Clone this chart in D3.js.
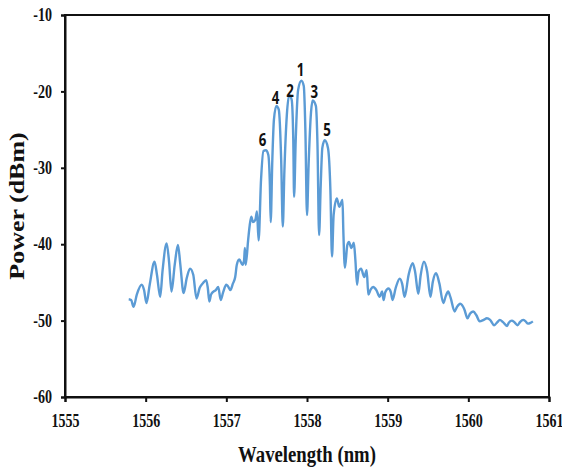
<!DOCTYPE html>
<html>
<head>
<meta charset="utf-8">
<script src="https://cdn.jsdelivr.net/npm/d3@7"></script>
<style>
  body { margin: 0; background: #fff; }
</style>
</head>
<body>
<script>
// spectrum (nm, dBm)
var wavelength = [
  1555.79, 1555.82, 1555.85, 1555.89, 1555.95, 1555.98, 1556.01, 1556.05, 1556.11, 1556.14,
  1556.18, 1556.21, 1556.26, 1556.29, 1556.32, 1556.36, 1556.40, 1556.43, 1556.47, 1556.51,
  1556.55, 1556.59, 1556.63, 1556.67, 1556.71, 1556.75, 1556.77, 1556.79, 1556.81, 1556.84,
  1556.87, 1556.90, 1556.93, 1556.96, 1557.00, 1557.02, 1557.05, 1557.08, 1557.11, 1557.13,
  1557.16, 1557.20, 1557.22, 1557.23, 1557.24, 1557.27, 1557.29, 1557.31, 1557.33, 1557.36,
  1557.38, 1557.40, 1557.43, 1557.46, 1557.49, 1557.52, 1557.54, 1557.55, 1557.57, 1557.59,
  1557.62, 1557.65, 1557.68, 1557.70, 1557.72, 1557.75, 1557.78, 1557.81, 1557.83, 1557.84,
  1557.86, 1557.89, 1557.93, 1557.96, 1557.98, 1558.00, 1558.02, 1558.05, 1558.07, 1558.11,
  1558.13, 1558.15, 1558.17, 1558.19, 1558.22, 1558.26, 1558.29, 1558.31, 1558.33, 1558.37,
  1558.40, 1558.44, 1558.45, 1558.47, 1558.50, 1558.52, 1558.55, 1558.58, 1558.60, 1558.62,
  1558.64, 1558.67, 1558.71, 1558.74, 1558.76, 1558.79, 1558.82, 1558.86, 1558.90, 1558.93,
  1558.95, 1558.97, 1559.01, 1559.04, 1559.06, 1559.10, 1559.15, 1559.18, 1559.21, 1559.26,
  1559.31, 1559.34, 1559.38, 1559.41, 1559.45, 1559.49, 1559.53, 1559.56, 1559.60, 1559.64,
  1559.69, 1559.72, 1559.75, 1559.78, 1559.83, 1559.86, 1559.90, 1559.95, 1559.99, 1560.02,
  1560.06, 1560.10, 1560.14, 1560.19, 1560.23, 1560.27, 1560.32, 1560.36, 1560.39, 1560.43,
  1560.48, 1560.50, 1560.54, 1560.57, 1560.61, 1560.64, 1560.68, 1560.71, 1560.74, 1560.77,
  1560.80
];
var power = [
  -47.2, -47.3, -48.2, -46.6, -45.3, -46.0, -47.7, -45.3, -42.3, -44.0,
  -46.9, -43.4, -39.9, -42.3, -46.2, -42.7, -40.1, -42.7, -46.4, -44.4,
  -43.2, -44.0, -47.1, -45.7, -45.1, -44.7, -45.7, -47.5, -46.6, -46.2,
  -46.0, -45.6, -47.3, -46.3, -45.3, -45.5, -46.0, -45.2, -44.3, -42.7,
  -42.0, -42.7, -42.1, -40.5, -42.7, -39.5, -37.5, -36.4, -37.1, -36.8,
  -35.7, -39.5, -31.6, -27.8, -27.7, -28.3, -32.3, -37.1, -29.0, -23.7,
  -21.9, -22.4, -29.0, -37.7, -30.3, -23.1, -20.5, -21.1, -26.4, -33.8,
  -26.4, -19.8, -18.6, -19.3, -25.1, -36.2, -29.6, -22.7, -21.2, -21.9,
  -27.0, -38.8, -32.3, -27.4, -26.4, -27.4, -32.9, -41.6, -36.2, -34.0,
  -35.1, -34.2, -38.1, -43.1, -40.1, -39.7, -40.5, -39.8, -42.1, -45.3,
  -43.6, -43.2, -44.3, -43.4, -46.6, -45.9, -45.6, -46.0, -46.9, -46.2,
  -47.3, -46.3, -45.8, -46.3, -47.3, -45.7, -44.5, -45.2, -46.9, -44.0,
  -42.5, -43.6, -46.5, -44.0, -42.3, -43.6, -46.9, -44.9, -43.8, -45.1,
  -47.7, -46.8, -46.2, -47.0, -48.8, -48.2, -47.8, -48.5, -49.7, -49.1,
  -48.8, -49.3, -50.1, -49.9, -49.7, -49.9, -50.6, -50.2, -49.9, -50.2,
  -50.7, -50.3, -50.0, -50.2, -50.6, -50.2, -49.9, -50.1, -50.4, -50.3,
  -50.1
];

var xTicks = [1555, 1556, 1557, 1558, 1559, 1560, 1561];
var yTicks = [-60, -50, -40, -30, -20, -10];

// numbers printed over the peaks, at the spot of their baseline
var peakNames = ["1", "2", "3", "4", "5", "6"];
var peakWl = [1557.92, 1557.79, 1558.09, 1557.61, 1558.25, 1557.45];
var peakDb = [-18.0, -20.7, -20.8, -21.6, -25.9, -27.1];

var w = 562;
var h = 473;
const margin = {top: 15, right: 13, bottom: 76, left: 65};
// the text in the picture is squeezed sideways
const squeeze = 0.78;
const serif = "'Liberation Serif', 'Times New Roman', serif";

var svg = d3.select("body")
            .append("svg")
            .attr("width", w)
            .attr("height", h);

var xScale = d3.scaleLinear()
               .domain([1555, 1561])
               .range([margin.left, w - margin.right]);

var yScale = d3.scaleLinear()
               .domain([-60, -10])
               .range([h - margin.bottom, margin.top]);

// frame round the plot
svg.append("rect")
   .attr("x", xScale(1555))
   .attr("y", yScale(-10))
   .attr("width", xScale(1561) - xScale(1555))
   .attr("height", yScale(-60) - yScale(-10))
   .attr("fill", "none")
   .attr("stroke", "#111")
   .attr("stroke-width", 2);

// x axis
var xAxis = d3.axisBottom(xScale)
              .tickValues(xTicks)
              .tickFormat(function(d) { return String(d); })
              .tickSize(5)
              .tickPadding(12);

var gx = svg.append("g")
            .attr("transform", "translate(0," + (h - margin.bottom) + ")")
            .call(xAxis);

// y axis, plain hyphen as minus like the picture
var yAxis = d3.axisLeft(yScale)
              .tickValues(yTicks)
              .tickFormat(function(d) { return String(d); })
              .tickSize(4);

var gy = svg.append("g")
            .attr("transform", "translate(" + margin.left + ",0)")
            .call(yAxis);

[gx, gy].forEach(function(g) {
  g.select(".domain").attr("stroke", "#111").attr("stroke-width", 2);
  g.selectAll(".tick line").attr("stroke", "#111").attr("stroke-width", 2);
  g.selectAll(".tick text")
   .attr("font-family", serif)
   .attr("font-weight", "bold")
   .attr("font-size", "18px")
   .attr("fill", "#111");
});

gx.selectAll(".tick text")
  .attr("transform", "scale(" + squeeze + ",1)");

gy.selectAll(".tick text")
  .attr("x", 0)
  .attr("transform", "translate(-13,0) scale(" + squeeze + ",1)");

// spectrum line
var line = d3.line()
             .x(function(d, i) { return xScale(wavelength[i]); })
             .y(function(d) { return yScale(d); })
             .curve(d3.curveMonotoneX);

svg.append("path")
   .datum(power)
   .attr("d", line)
   .attr("fill", "none")
   .attr("stroke", "#5b9bd5")
   .attr("stroke-width", 2.4)
   .attr("stroke-linejoin", "round");

// peak numbers
svg.selectAll(".peak")
   .data(peakNames)
   .enter()
   .append("text")
   .attr("class", "peak")
   .attr("transform", function(d, i) {
     return "translate(" + xScale(peakWl[i]) + "," + yScale(peakDb[i]) + ") scale(" + squeeze + ",1)";
   })
   .attr("text-anchor", "middle")
   .attr("font-family", "'Open Sans', 'Noto Sans', sans-serif")
   .attr("font-weight", "bold")
   .attr("font-size", "17px")
   .attr("fill", "#111")
   .text(function(d) { return d; });

// x axis title
svg.append("text")
   .attr("transform", "translate(" + ((margin.left + w - margin.right) / 2) + ",462) scale(" + squeeze + ",1)")
   .attr("text-anchor", "middle")
   .attr("font-family", serif)
   .attr("font-weight", "bold")
   .attr("font-size", "24px")
   .attr("fill", "#111")
   .text("Wavelength (nm)");

// y axis title
svg.append("text")
   .attr("transform", "translate(24,206) scale(" + squeeze + ",1) rotate(-90)")
   .attr("text-anchor", "middle")
   .attr("font-family", serif)
   .attr("font-weight", "bold")
   .attr("font-size", "26px")
   .attr("fill", "#111")
   .text("Power (dBm)");
</script>
</body>
</html>
